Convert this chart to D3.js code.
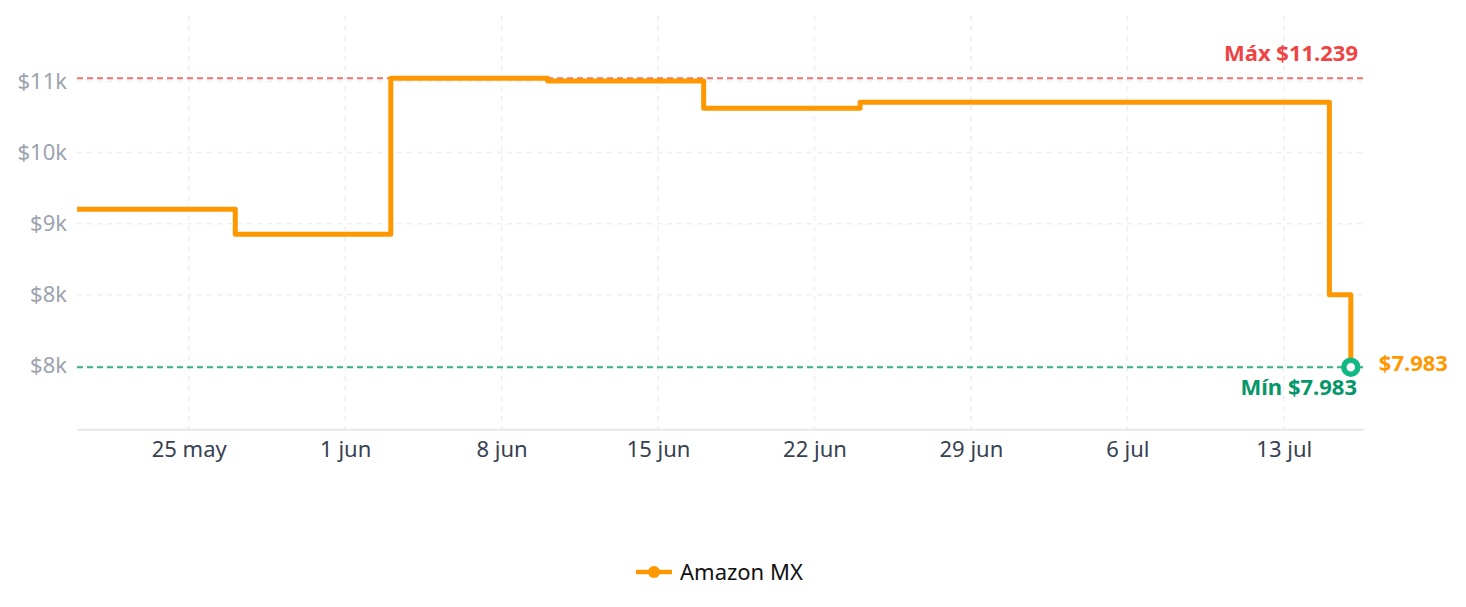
<!DOCTYPE html>
<html>
<head>
<meta charset="utf-8">
<script src="https://cdn.jsdelivr.net/npm/d3@7"></script>
<style>
  body { margin: 0; background: #fff; }
  svg text { font-family: "Noto Sans", sans-serif; }
</style>
</head>
<body>
<div id="chart"></div>
<script>
(function () {
  const width = 1466;
  const height = 607;
  const margin = {top: 16, right: 102, bottom: 178, left: 77};

  // price history, Amazon MX (step after each change)
  const dates = [
    "2025-05-20T00:00", "2025-05-27T02:00", "2025-06-03T01:00", "2025-06-10T01:30",
    "2025-06-17T01:00", "2025-06-24T01:00", "2025-07-15T01:00", "2025-07-16T00:00"
  ];
  const prices = [9762, 9480, 11239, 11207, 10900, 10966, 8800, 7983];
  const domainEnd = "2025-07-16T14:10";

  const yTicks = [8000, 8800, 9600, 10400, 11200];
  const monthNames = ["ene", "feb", "mar", "abr", "may", "jun", "jul", "ago", "sep", "oct", "nov", "dic"];
  const seriesName = "Amazon MX";

  const data = dates.map(function (d, i) {
    return {date: new Date(d), price: prices[i]};
  });

  const maxPrice = d3.max(prices);
  const minPrice = d3.min(prices);
  const last = data[data.length - 1];
  const fmtPrice = function (v) { return "$" + d3.format(",")(v).replace(/,/g, "."); };

  const svg = d3.select("#chart").append("svg")
    .attr("width", width)
    .attr("height", height);

  const x = d3.scaleTime()
    .domain([data[0].date, new Date(domainEnd)])
    .range([margin.left, width - margin.right]);

  const y = d3.scaleLinear()
    .domain([minPrice - 700, maxPrice + 700])
    .range([height - margin.bottom + 0.3, margin.top]);

  // grid
  svg.append("g")
    .selectAll("line")
    .data(yTicks)
    .join("line")
      .attr("x1", margin.left)
      .attr("x2", width - margin.right)
      .attr("y1", d => y(d))
      .attr("y2", d => y(d))
      .attr("stroke", "#efefef")
      .attr("stroke-width", 1.5)
      .attr("stroke-dasharray", "5 5");

  svg.append("g")
    .selectAll("line")
    .data(x.ticks(d3.timeWeek))
    .join("line")
      .attr("x1", d => x(d))
      .attr("x2", d => x(d))
      .attr("y1", margin.top)
      .attr("y2", y.range()[0])
      .attr("stroke", "#efefef")
      .attr("stroke-width", 1.5)
      .attr("stroke-dasharray", "5 5");

  // axes
  const xAxis = svg.append("g")
    .attr("transform", "translate(0," + y.range()[0] + ")")
    .call(d3.axisBottom(x)
      .ticks(d3.timeWeek)
      .tickSize(0)
      .tickPadding(12)
      .tickFormat(d => d.getDate() + " " + monthNames[d.getMonth()]));
  xAxis.select(".domain").attr("stroke", "#e5e7eb").attr("stroke-width", 2);
  xAxis.selectAll("text").attr("fill", "#374151").attr("font-size", 22);

  const yAxis = svg.append("g")
    .attr("transform", "translate(" + margin.left + ",0)")
    .call(d3.axisLeft(y)
      .tickValues(yTicks)
      .tickSize(0)
      .tickPadding(10)
      .tickFormat(d => "$" + Math.floor(d / 1000) + "k"));
  yAxis.select(".domain").remove();
  yAxis.selectAll("text").attr("fill", "#9ca3af").attr("font-size", 22);

  // reference lines
  svg.append("line")
    .attr("x1", margin.left)
    .attr("x2", width - margin.right)
    .attr("y1", y(maxPrice))
    .attr("y2", y(maxPrice))
    .attr("stroke", "#f87171")
    .attr("stroke-width", 2)
    .attr("stroke-dasharray", "6 4");

  svg.append("line")
    .attr("x1", margin.left)
    .attr("x2", width - margin.right)
    .attr("y1", y(minPrice))
    .attr("y2", y(minPrice))
    .attr("stroke", "#34b38a")
    .attr("stroke-width", 2)
    .attr("stroke-dasharray", "6 4");

  svg.append("text")
    .attr("x", width - margin.right - 6)
    .attr("y", y(maxPrice) - 17)
    .attr("text-anchor", "end")
    .attr("fill", "#ef4444")
    .attr("font-size", 22)
    .attr("font-weight", "bold")
    .text("Máx " + fmtPrice(maxPrice));

  svg.append("text")
    .attr("x", width - margin.right - 7)
    .attr("y", y(minPrice) + 28)
    .attr("text-anchor", "end")
    .attr("fill", "#059669")
    .attr("font-size", 22)
    .attr("font-weight", "bold")
    .text("Mín " + fmtPrice(minPrice));

  // price line
  const line = d3.line()
    .curve(d3.curveStepAfter)
    .x(d => x(d.date))
    .y(d => y(d.price));

  svg.append("path")
    .attr("d", line(data))
    .attr("fill", "none")
    .attr("stroke", "#ff9800")
    .attr("stroke-width", 5)
    .attr("stroke-linejoin", "round");

  svg.append("circle")
    .attr("cx", x(last.date))
    .attr("cy", y(last.price))
    .attr("r", 7)
    .attr("fill", "#fff")
    .attr("stroke", "#10b981")
    .attr("stroke-width", 5.5);

  svg.append("text")
    .attr("x", x(last.date) + 28)
    .attr("y", y(last.price) + 4)
    .attr("fill", "#ff9800")
    .attr("font-size", 22)
    .attr("font-weight", "bold")
    .text(fmtPrice(last.price));

  // legend
  const legend = svg.append("g")
    .attr("transform", "translate(636,572)");
  legend.append("line")
    .attr("x1", 0)
    .attr("x2", 36)
    .attr("stroke", "#ff9800")
    .attr("stroke-width", 4.5);
  legend.append("circle")
    .attr("cx", 18)
    .attr("r", 6)
    .attr("fill", "#ff9800");
  legend.append("text")
    .attr("x", 44)
    .attr("dy", "0.35em")
    .attr("fill", "#111")
    .attr("font-size", 22)
    .text(seriesName);
})();
</script>
</body>
</html>
